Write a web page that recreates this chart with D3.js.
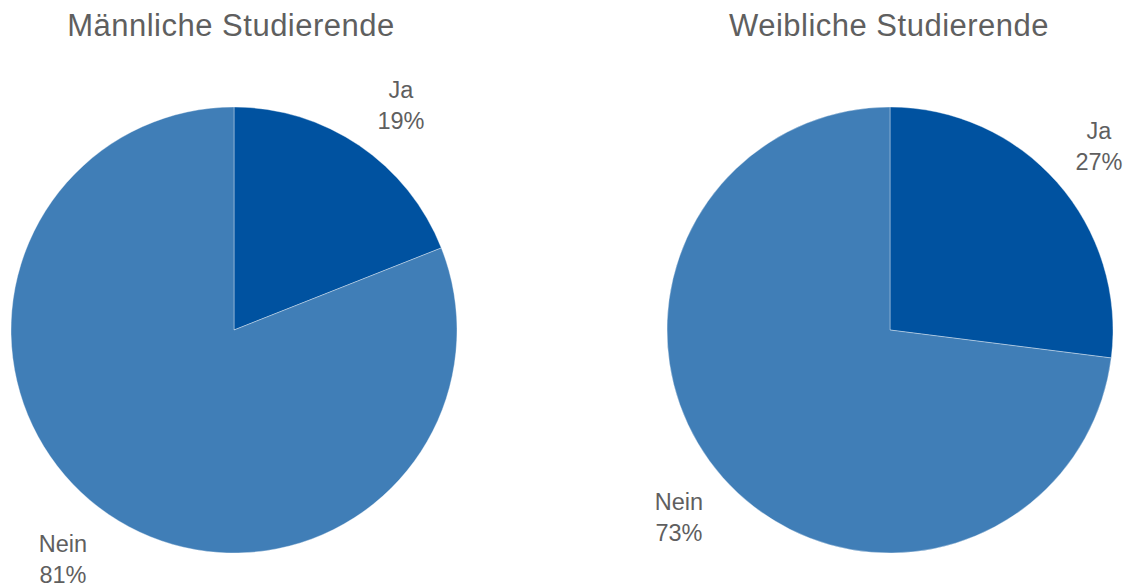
<!DOCTYPE html>
<html><head><meta charset="utf-8">
<script src="https://cdn.jsdelivr.net/npm/d3@7"></script>
<style>body{margin:0;background:#fff}svg{display:block}text{font-family:"Liberation Sans",Arial,sans-serif;fill:#5f5f5f}</style>
</head><body>
<svg id="c" width="1132" height="585"></svg>
<script>
const categories = ["Ja", "Nein"];
const titles = ["Männliche Studierende", "Weibliche Studierende"];
const maleValues = [19, 81];
const femaleValues = [27, 73];
const colors = ["#0052A0", "#407EB7"];

const svg = d3.select("#c");
const R = 223;
const pies = [
  {title: titles[0], values: maleValues, cx: 234, cy: 330, titleX: 231,
   labels: [{x: 401, y: 98}, {x: 63, y: 552}]},
  {title: titles[1], values: femaleValues, cx: 890, cy: 330, titleX: 889,
   labels: [{x: 1099, y: 139}, {x: 679, y: 510}]}
];
const pie = d3.pie().sort(null).value(d => d);
const arc = d3.arc().innerRadius(0).outerRadius(R);
const color = d3.scaleOrdinal().domain(categories).range(colors);

pies.forEach(p => {
  svg.append("text").attr("x", p.titleX).attr("y", 36).attr("text-anchor", "middle")
    .style("font-size", "31px").style("letter-spacing", "0.5px").text(p.title);
  const g = svg.append("g").attr("transform", `translate(${p.cx},${p.cy})`);
  const arcs = pie(p.values);
  g.selectAll("path").data(arcs).join("path")
    .attr("d", arc).attr("fill", (d, i) => color(categories[i]))
    .attr("stroke", "#ffffff").attr("stroke-width", 0.6).attr("stroke-opacity", 0.6);
  arcs.forEach((a, i) => {
    const t = svg.append("text").attr("text-anchor", "middle").style("font-size", "23.5px");
    t.append("tspan").attr("x", p.labels[i].x).attr("y", p.labels[i].y).text(categories[i]);
    t.append("tspan").attr("x", p.labels[i].x).attr("y", p.labels[i].y + 31).text(p.values[i] + "%");
  });
});
</script>
</body></html>
